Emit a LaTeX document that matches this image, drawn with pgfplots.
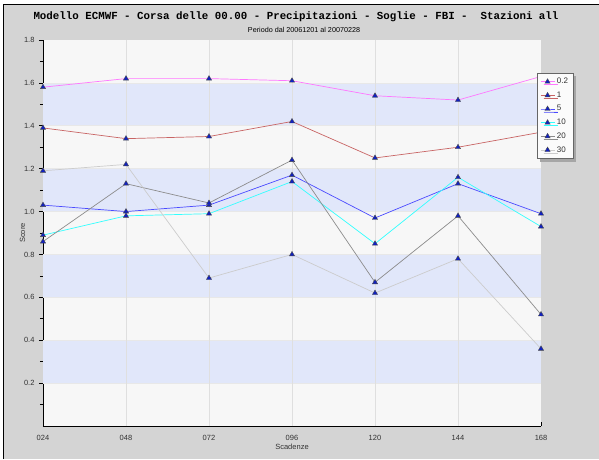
\documentclass[border=0pt]{standalone}
\usepackage{fontspec}
\setmainfont{Liberation Sans}
\newfontfamily\monofont{Liberation Mono}
\usepackage{pgfplots}
\pgfplotsset{compat=1.18}
\usetikzlibrary{shadows}
\definecolor{outergray}{HTML}{D4D4D4}
\definecolor{bandblue}{HTML}{E1E7FA}
\definecolor{plotbg}{HTML}{F7F7F7}
\definecolor{cA}{HTML}{FF77FF}
\definecolor{cB}{HTML}{C86464}
\definecolor{cC}{HTML}{4A4AFF}
\definecolor{cD}{HTML}{33FFFF}
\definecolor{cE}{HTML}{8C8C8C}
\definecolor{cF}{HTML}{CCCCCC}
\definecolor{mk}{HTML}{1020C0}
\begin{document}
\begin{tikzpicture}[x=1pt,y=1pt]
\path[use as bounding box] (0,0) rectangle (599,459);
\fill[white] (0,0) rectangle (599,459);
\fill[outergray] (3,0) rectangle (599,455);
\draw[black,line width=1pt] (3.5,0) -- (3.5,454.5) -- (599,454.5);
\node[font=\monofont\bfseries\fontsize{10.8}{12}\selectfont] at (296,442) {Modello ECMWF - Corsa delle 00.00 - Precipitazioni - Soglie - FBI -~~Stazioni all};
\node[font=\fontsize{7.2}{8}\selectfont] at (304,429) {Periodo dal 20061201 al 20070228};
\begin{axis}[
  at={(43pt,33pt)}, anchor=south west,
  scale only axis, width=498pt, height=386pt,
  xmin=24, xmax=168, ymin=0, ymax=1.8,
  xtick={24,48,72,96,120,144,168},
  xticklabels={024,048,072,096,120,144,168},
  ytick={0.2,0.4,0.6,0.8,1.0,1.2,1.4,1.6,1.8},
  yticklabels={0.2,0.4,0.6,0.8,1.0,1.2,1.4,1.6,1.8},
  minor ytick={0.1,0.3,0.5,0.7,0.9,1.1,1.3,1.5,1.7},
  tick label style={font=\fontsize{7.5}{8}\selectfont, text=black!80},
  xticklabel style={yshift=-6pt},
  yticklabel style={xshift=-1pt},
  xtick align=inside, ytick align=outside,
  major tick length=4pt, minor tick length=3pt,
  tick style={black, line width=0.6pt},
  axis line style={black, line width=0.8pt},
  axis x line*=bottom, axis y line*=left,
  axis background/.style={fill=plotbg},
  xlabel={Scadenze}, ylabel={Score},
  label style={font=\fontsize{7.5}{8}\selectfont, text=black!80},
  xlabel style={yshift=4pt},
  ylabel style={yshift=-8pt},
  clip=false,
  every axis plot/.append style={line width=0.7pt, mark=triangle*, mark size=3pt, mark options={fill=mk, draw=black!70, line width=0.4pt}},
  legend style={at={(1,1)}, anchor=north west, xshift=-4pt, yshift=-33pt,
    font=\fontsize{8}{9}\selectfont, draw=black!60, fill=white!97!gray,
    drop shadow={shadow xshift=3pt, shadow yshift=-3pt, fill=gray!70, opacity=1},
    inner xsep=3pt, inner ysep=3pt, row sep=2.6pt, text=black!80},
  legend cell align=left,
  legend image code/.code={\draw[#1, mark repeat=2, mark phase=2] plot coordinates {(0pt,0pt) (7pt,0pt) (14pt,0pt)};},
]
\fill[bandblue] (axis cs:24,1.4) rectangle (axis cs:168,1.6);
\fill[bandblue] (axis cs:24,1.0) rectangle (axis cs:168,1.2);
\fill[bandblue] (axis cs:24,0.6) rectangle (axis cs:168,0.8);
\fill[bandblue] (axis cs:24,0.2) rectangle (axis cs:168,0.4);
\pgfplotsinvokeforeach{0.2,0.4,0.6,0.8,1.0,1.2,1.4,1.6}{
  \draw[gray!18, line width=0.6pt] (axis cs:24,#1) -- (axis cs:168,#1);
}
\pgfplotsinvokeforeach{48,72,96,120,144}{
  \draw[gray!25, line width=0.6pt] (axis cs:#1,0) -- (axis cs:#1,1.8);
}
\addplot[cA] coordinates {(24,1.58) (48,1.62) (72,1.62) (96,1.61) (120,1.54) (144,1.52) (168,1.63)};
\addlegendentry{0.2}
\addplot[cB] coordinates {(24,1.39) (48,1.34) (72,1.35) (96,1.42) (120,1.25) (144,1.30) (168,1.37)};
\addlegendentry{1}
\addplot[cC] coordinates {(24,1.03) (48,1.00) (72,1.03) (96,1.17) (120,0.97) (144,1.13) (168,0.99)};
\addlegendentry{5}
\addplot[cD] coordinates {(24,0.89) (48,0.98) (72,0.99) (96,1.14) (120,0.85) (144,1.16) (168,0.93)};
\addlegendentry{10}
\addplot[cE] coordinates {(24,0.86) (48,1.13) (72,1.04) (96,1.24) (120,0.67) (144,0.98) (168,0.52)};
\addlegendentry{20}
\addplot[cF] coordinates {(24,1.19) (48,1.22) (72,0.69) (96,0.80) (120,0.62) (144,0.78) (168,0.36)};
\addlegendentry{30}
\end{axis}
\end{tikzpicture}
\end{document}
